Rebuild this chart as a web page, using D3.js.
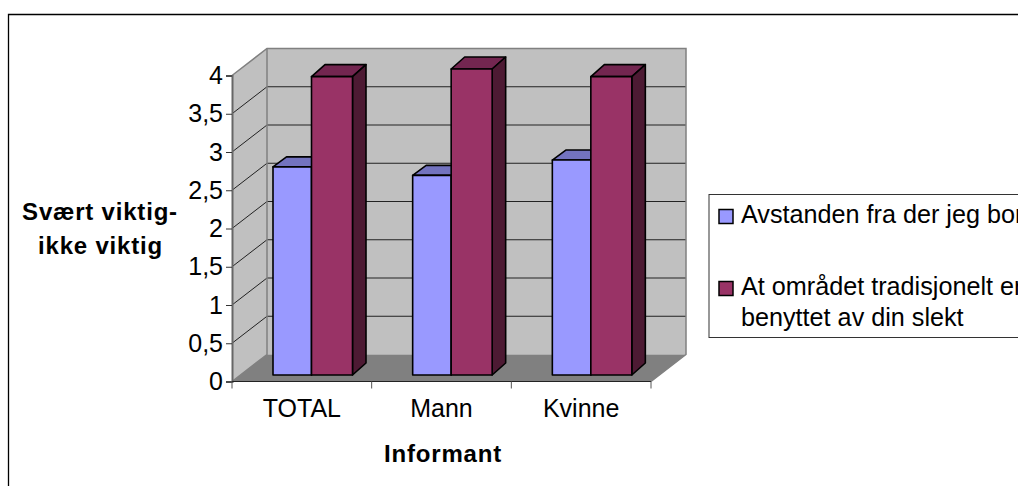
<!DOCTYPE html>
<html><head><meta charset="utf-8">
<script src="https://cdn.jsdelivr.net/npm/d3@7"></script>
<style>html,body{margin:0;padding:0;background:#fff;overflow:hidden}svg{display:block}text{font-family:"Liberation Sans",Arial,sans-serif;fill:#000}</style>
</head><body><svg id="c" width="1018" height="486"></svg>
<script>
const categories = ["TOTAL","Mann","Kvinne"];
const seriesNames = ["Avstanden fra der jeg bor","At området tradisjonelt er"];
const seriesA = [2.72,2.61,2.81];
const seriesB = [3.9,4.0,3.9];
const yTicks = [0,0.5,1,1.5,2,2.5,3,3.5,4];
const tickLabels = ["0","0,5","1","1,5","2","2,5","3","3,5","4"];
const colorsFront = ["#9999ff","#993366"];
const colorsTop = ["#7373bf","#732650"];
const colorsSide = ["#4d4d80","#4d1a33"];

const svg = d3.select("#c");
const x = d3.scaleBand().domain(categories).range([232,651]).padding(0);
const y = d3.scaleLinear().domain([0,4]).range([381.5,75.5]);
const innerL = d3.scaleOrdinal().domain([0,1]).range([41,79.5]);
const innerR = d3.scaleOrdinal().domain([0,1]).range([79.5,120.5]);
const dx=35, dy=-27;
const poly = (pts,fill,stroke,sw)=>svg.append("polygon").attr("points",pts.map(p=>p.join(",")).join(" "))
  .attr("fill",fill).attr("stroke",stroke||"none").attr("stroke-width",sw||0).attr("stroke-linejoin","round");

// frame
svg.append("path").attr("d","M8.5,486V14.5H1018").attr("fill","none").attr("stroke","#000").attr("stroke-width",1.3);

const x0=x.range()[0], x1=x.range()[1], yB=y(0), yT=y(4);
// walls and floor
poly([[x0+dx,yT+dy],[x1+dx,yT+dy],[x1+dx,yB+dy],[x0+dx,yB+dy]],"#c0c0c0");
poly([[x0,yT],[x0+dx,yT+dy],[x0+dx,yB+dy],[x0,yB]],"#c0c0c0");
poly([[x0,yB],[x0+dx,yB+dy],[x1+dx,yB+dy],[x1,yB]],"#808080");
// gridlines
yTicks.slice(1,-1).forEach(t=>{
  svg.append("path").attr("d",`M${x0},${y(t)}L${x0+dx},${y(t)+dy}H${x1+dx}`).attr("fill","none").attr("stroke","#222").attr("stroke-width",1);
});
// wall outlines
svg.append("path").attr("d",`M${x0},${yT}L${x0+dx},${yT+dy}H${x1+dx}V${yB+dy}L${x1},${yB}`).attr("fill","none").attr("stroke","#808080").attr("stroke-width",1.5);
svg.append("path").attr("d",`M${x0+dx},${yT+dy}V${yB+dy}L${x0},${yB}`).attr("fill","none").attr("stroke","#808080").attr("stroke-width",1.5);

// bars
const base = 375, unit = (yB-yT)/4, bdx=13.5, bdyTop=[-10,-12], bdy=-12;
const barY = v=>base-v*unit;
categories.forEach((c,i)=>{
  [seriesA,seriesB].forEach((s,k)=>{
    const l=x(c)+innerL(k), r=x(c)+innerR(k), t=barY(s[i]), d=bdyTop[k];
    poly([[l,t],[l+bdx,t+d],[r+bdx,t+d],[r,t]],colorsTop[k],"#000",1.6);
    poly([[r,t],[r+bdx,t+d],[r+bdx,base+bdy],[r,base]],colorsSide[k],"#000",1.6);
    poly([[l,t],[r,t],[r,base],[l,base]],colorsFront[k],"#000",1.6);
  });
});

// axes
const yAxis=d3.axisLeft(y).tickValues(yTicks).tickSize(6).tickPadding(3).tickFormat((d,i)=>tickLabels[i]);
const gy=svg.append("g").attr("transform",`translate(${x0},0)`).call(yAxis);
gy.selectAll("text").style("font-size","25px").attr("font-family",null);
gy.selectAll("line").attr("stroke","#333");
gy.select(".domain").attr("stroke","#666").attr("stroke-width",2);
const xAxis=d3.axisBottom(x).tickSize(0).tickPadding(17.5);
const gx=svg.append("g").attr("transform",`translate(0,${yB})`).call(xAxis);
gx.select(".domain").attr("d",`M${x0},0H${x1}`).attr("stroke","#222");
gx.selectAll("text").style("font-size","25px").attr("font-family",null).attr("dy","0.71em");
[...categories.map(c=>x(c)),x1].forEach(p=>gx.append("line").attr("x1",p).attr("x2",p).attr("y1",0).attr("y2",7).attr("stroke","#555"));

// axis titles
[["Svært viktig-",100,220],["ikke viktig",100.5,253.5],["Informant",443,462]].forEach(a=>svg.append("text").text(a[0]).attr("x",a[1]).attr("y",a[2]).attr("text-anchor","middle").style("font-size","24px").style("letter-spacing","0.8px").style("font-weight","bold"));

// legend
svg.append("rect").attr("x",709).attr("y",194.5).attr("width",320).attr("height",143).attr("fill","#fff").attr("stroke","#333").attr("stroke-width",1);
[[0,209.5],[1,281.5]].forEach(a=>{
  svg.append("rect").attr("x",719).attr("y",a[1]).attr("width",14).attr("height",14).attr("fill",colorsFront[a[0]]).attr("stroke","#000").attr("stroke-width",1.5);
});
[[seriesNames[0],741,222.5],[seriesNames[1],741,295],["benyttet av din slekt",741,326]].forEach(a=>svg.append("text").text(a[0]).attr("x",a[1]).attr("y",a[2]).style("font-size","25.2px"));
</script></body></html>
